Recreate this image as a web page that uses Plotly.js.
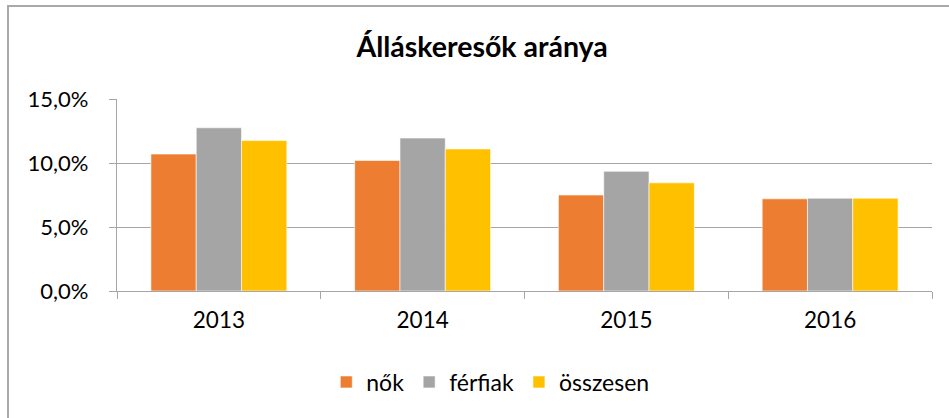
<!DOCTYPE html>
<html>
<head>
<meta charset="utf-8">
<script src="https://cdn.plot.ly/plotly-3.0.1.min.js"></script>
<style>
  html, body { margin: 0; padding: 0; background: #fff; }
  #wrap { position: relative; width: 949px; height: 418px; overflow: hidden; }
  #chart { width: 949px; height: 418px; }
  #frame { position: absolute; left: 7px; top: 5px; right: -10px; bottom: -10px;
           border-left: 2px solid #A9A9A9; border-top: 2px solid #A9A9A9; pointer-events: none; }
</style>
</head>
<body>
<div id="wrap">
  <div id="chart"></div>
  <div id="frame"></div>
</div>
<script>
const years = ['2013', '2014', '2015', '2016'];
const nok = [10.7, 10.2, 7.5, 7.2];
const ferfiak = [12.75, 11.95, 9.35, 7.25];
const osszesen = [11.75, 11.1, 8.45, 7.25];
const seriesNames = ['nők', 'férfiak', 'összesen'];
const seriesColors = ['#ED7D31', '#A5A5A5', '#FFC000'];
const yTicks = [0, 5, 10, 15];
const yTickLabels = ['0,0%', '5,0%', '10,0%', '15,0%'];

const FONT = 'Lato, "Open Sans", sans-serif';
const data = [nok, ferfiak, osszesen].map((vals, i) => ({
  type: 'bar',
  name: seriesNames[i],
  x: years,
  y: vals,
  marker: { color: seriesColors[i], line: { color: '#ffffff', width: 0.6 } },
  hoverinfo: 'x+y+name'
}));

const layout = {
  width: 949,
  height: 418,
  margin: { l: 117, r: 17, t: 99, b: 127 },
  paper_bgcolor: '#ffffff',
  plot_bgcolor: '#ffffff',
  separators: ', ',
  font: { family: FONT, size: 22, color: '#000000' },
  title: {
    text: '<b>Álláskeresők aránya</b>',
    font: { family: FONT, size: 28.5, color: '#000000' },
    x: 0.508, xanchor: 'center', xref: 'container',
    y: 0.888, yanchor: 'middle', yref: 'container'
  },
  barmode: 'group',
  bargap: 0.333,
  bargroupgap: 0,
  xaxis: {
    type: 'category',
    showgrid: false,
    showline: true,
    linecolor: '#A6A6A6',
    linewidth: 1.3,
    ticks: 'outside',
    tickson: 'boundaries',
    ticklen: 7,
    tickcolor: '#A6A6A6',
    tickwidth: 1.3,
    ticklabelstandoff: 9,
    tickfont: { family: FONT, size: 22.5, color: '#000' },
    fixedrange: true
  },
  yaxis: {
    range: [0, 15],
    tickmode: 'array',
    tickvals: yTicks,
    ticktext: yTickLabels,
    showgrid: true,
    gridcolor: '#A6A6A6',
    gridwidth: 1.3,
    showline: true,
    linecolor: '#A6A6A6',
    linewidth: 1.3,
    ticks: 'outside',
    ticklen: 7,
    tickcolor: '#A6A6A6',
    tickwidth: 1.3,
    ticklabelstandoff: 16,
    zeroline: false,
    tickfont: { family: FONT, size: 22, color: '#000' },
    fixedrange: true
  },
  legend: {
    orientation: 'h',
    x: 0.458, xanchor: 'center',
    y: -0.474, yanchor: 'middle',
    font: { family: FONT, size: 23, color: '#000' },
    itemwidth: 30,
    traceorder: 'normal'
  },
  showlegend: true
};

Plotly.newPlot('chart', data, layout, { displayModeBar: false });
</script>
</body>
</html>
